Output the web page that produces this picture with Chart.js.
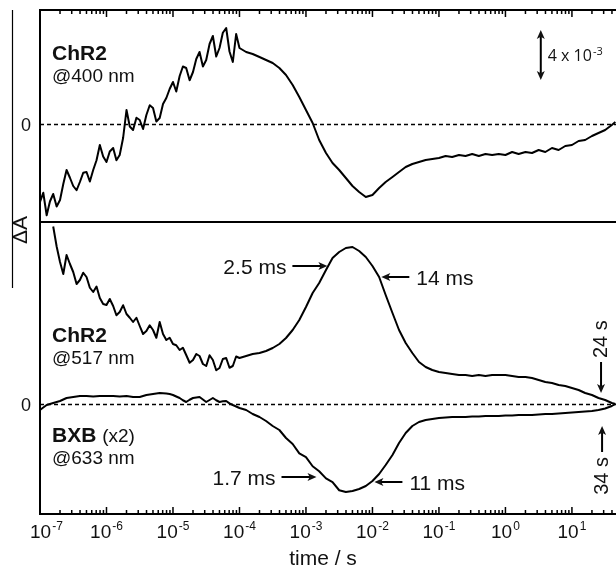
<!DOCTYPE html>
<html>
<head>
<meta charset="utf-8">
<script src="https://cdn.jsdelivr.net/npm/chart.js"></script>
<style>
  html, body { margin: 0; padding: 0; background: #fff; }
  #wrap { width: 616px; height: 568px; }
</style>
</head>
<body>
<div id="wrap"><canvas id="kinetics" width="616" height="568"></canvas></div>
<script>
// time after flash (s): 20 samples per decade up to 100 us, 10 per decade after
const time = [
  1e-7, 1.12e-7, 1.26e-7, 1.41e-7, 1.58e-7, 1.78e-7, 2e-7, 2.24e-7, 2.51e-7, 2.82e-7,
  3.16e-7, 3.55e-7, 3.98e-7, 4.47e-7, 5.01e-7, 5.62e-7, 6.31e-7, 7.08e-7, 7.94e-7, 8.91e-7,
  1e-6, 1.12e-6, 1.26e-6, 1.41e-6, 1.58e-6, 1.78e-6, 2e-6, 2.24e-6, 2.51e-6, 2.82e-6,
  3.16e-6, 3.55e-6, 3.98e-6, 4.47e-6, 5.01e-6, 5.62e-6, 6.31e-6, 7.08e-6, 7.94e-6, 8.91e-6,
  1e-5, 1.12e-5, 1.26e-5, 1.41e-5, 1.58e-5, 1.78e-5, 2e-5, 2.24e-5, 2.51e-5, 2.82e-5,
  3.16e-5, 3.55e-5, 3.98e-5, 4.47e-5, 5.01e-5, 5.62e-5, 6.31e-5, 7.08e-5, 7.94e-5, 8.91e-5,
  1e-4, 1.26e-4, 1.58e-4, 2e-4, 2.51e-4, 3.16e-4, 3.98e-4, 5.01e-4, 6.31e-4, 7.94e-4,
  1e-3, 1.26e-3, 1.58e-3, 2e-3, 2.51e-3, 3.16e-3, 3.98e-3, 5.01e-3, 6.31e-3, 7.94e-3,
  1e-2, 1.26e-2, 1.58e-2, 2e-2, 2.51e-2, 3.16e-2, 3.98e-2, 5.01e-2, 6.31e-2, 7.94e-2,
  0.1, 0.126, 0.158, 0.2, 0.251, 0.316, 0.398, 0.501, 0.631, 0.794,
  1, 1.26, 1.58, 2, 2.51, 3.16, 3.98, 5.01, 6.31, 7.94,
  10, 12.6, 15.8, 20, 25.1, 31.6, 39.8, 45
];

// absorbance change, units of 1e-3
const chr2At400 = [
  -6.24, -5.5, -7.3, -6.2, -5.6, -6.6, -6.08, -4.8, -3.68, -4.3,
  -4.96, -5.3, -4.64, -3.9, -3.84, -4.6, -3.68, -2.9, -1.68, -2.6,
  -3.04, -2.2, -1.92, -2.9, -2.48, -1.1, 1.12, -0.2, -0.48, 0.5,
  0.32, -0.4, 0.72, 1.5, 1.28, 0.2, 0.48, 1.6, 2.08, 2.8,
  3.36, 2.6, 3.84, 4.6, 4.48, 3.5, 4.16, 5.2, 5.76, 4.6,
  5.12, 6.4, 7.04, 5.4, 6.08, 7.3, 7.68, 5.8, 4.96, 7.2,
  6.08, 5.76, 5.6, 5.36, 5.12, 4.88, 4.48, 3.92, 3.12, 2.16,
  1.12, 0.08, -1.28, -2.32, -3.12, -3.68, -4.32, -4.96, -5.44, -5.84,
  -5.68, -5.12, -4.64, -4.24, -3.84, -3.44, -3.2, -3.04, -2.88, -2.8,
  -2.72, -2.56, -2.64, -2.48, -2.56, -2.4, -2.56, -2.4, -2.48, -2.4,
  -2.48, -2.24, -2.4, -2.24, -2.32, -2.08, -2.24, -1.92, -2.08, -1.76,
  -1.68, -1.36, -1.28, -0.96, -0.72, -0.48, -0.08, 0.16
];

const chr2At517 = [
  null, null, null, null, 14.2, 12.6, 11.36, 10.4, 11.92, 11.2,
  10.56, 9.6, 9.92, 10.5, 10.16, 9.3, 8.96, 9.4, 8.48, 8.0,
  7.92, 8.4, 7.84, 7.1, 7.36, 7.9, 7.2, 6.9, 6.56, 6.9,
  6.24, 5.6, 5.84, 6.3, 5.92, 5.3, 6.56, 5.6, 5.12, 5.3,
  4.8, 4.7, 4.32, 4.5, 3.92, 3.3, 3.52, 4.0, 3.84, 3.2,
  3.04, 3.9, 3.52, 2.7, 2.88, 3.6, 3.68, 2.9, 3.04, 3.8,
  3.68, 3.84, 4.0, 4.08, 4.24, 4.48, 4.8, 5.28, 5.92, 6.72,
  7.76, 8.88, 9.68, 10.72, 11.68, 12.16, 12.48, 12.56, 12.24, 11.76,
  11.04, 10.16, 8.72, 7.28, 5.92, 4.88, 4.08, 3.36, 2.96, 2.72,
  2.56, 2.48, 2.4, 2.32, 2.32, 2.24, 2.32, 2.24, 2.32, 2.32,
  2.32, 2.24, 2.16, 2.16, 2.08, 1.92, 1.76, 1.68, 1.52, 1.44,
  1.28, 1.12, 0.88, 0.72, 0.48, 0.32, 0.08, 0
];

// BXB, already multiplied by 2
const bxbAt633 = [
  -0.48, -0.28, -0.08, 0.0, 0.08, 0.16, 0.24, 0.36, 0.48, 0.52,
  0.56, 0.6, 0.64, 0.64, 0.64, 0.62, 0.6, 0.62, 0.64, 0.64,
  0.64, 0.64, 0.64, 0.62, 0.6, 0.62, 0.64, 0.6, 0.56, 0.56,
  0.56, 0.64, 0.72, 0.76, 0.8, 0.84, 0.88, 0.86, 0.84, 0.8,
  0.72, 0.6, 0.48, 0.3, 0.16, 0.34, 0.48, 0.52, 0.56, 0.36,
  0.16, 0.32, 0.48, 0.3, 0.16, 0.22, 0.24, 0.05, -0.08, -0.2,
  -0.32, -0.48, -0.8, -1.04, -1.36, -1.76, -2.08, -2.72, -3.2, -3.95,
  -4.25, -4.98, -5.38, -5.95, -6.25, -6.9, -7.04, -6.96, -6.8, -6.56,
  -6.16, -5.6, -4.88, -4.08, -3.12, -2.32, -1.76, -1.44, -1.28, -1.2,
  -1.12, -1.08, -1.04, -1.04, -1.04, -1, -1, -0.96, -0.96, -0.96,
  -0.92, -0.92, -0.88, -0.88, -0.88, -0.84, -0.8, -0.8, -0.76, -0.72,
  -0.68, -0.64, -0.6, -0.56, -0.48, -0.36, -0.16, 0
];

const decadeExponents = [-7, -6, -5, -4, -3, -2, -1, 0, 1];
const minorMantissas = [2, 3, 4, 5, 6, 7, 8, 9];

// time constants: [label, time at arrow tip, dA at tip, text side]
const riseDecayMarks = [
  ['2.5 ms', 2.1e-3, 11.04, 'left'],
  ['14 ms', 0.0136, 10.16, 'right'],
  ['1.7 ms', 1.44e-3, -5.84, 'left'],
  ['11 ms', 0.0107, -6.24, 'right']
];
// slow recovery: [label, time, dA at tip, text side]
const recoveryMarks = [
  ['24 s', 27.4, 0.88, 'above'],
  ['34 s', 28.4, -1.76, 'below']
];
// vertical scale bar: time, dA from, dA to
const scaleBar = [3.4, 3.52, 7.52];

const FONT = '"Liberation Sans", Arial, Helvetica, sans-serif';

function toPoints(values) {
  const pts = [];
  values.forEach((v, i) => { if (v !== null) pts.push({x: time[i], y: v}); });
  return pts;
}

function arrow(ctx, x1, y1, x2, y2) {
  const ang = Math.atan2(y2 - y1, x2 - x1);
  const len = 9, half = 4;
  const c = Math.cos(ang), s = Math.sin(ang);
  ctx.beginPath();
  ctx.moveTo(x1, y1);
  ctx.lineTo(x2 - c * len * 0.7, y2 - s * len * 0.7);
  ctx.stroke();
  ctx.beginPath();
  ctx.moveTo(x2, y2);
  ctx.lineTo(x2 - c * len + s * half, y2 - s * len - c * half);
  ctx.lineTo(x2 - c * len * 0.75, y2 - s * len * 0.75);
  ctx.lineTo(x2 - c * len - s * half, y2 - s * len + c * half);
  ctx.closePath();
  ctx.fill();
}

// "10" with a raised exponent
function powWidth(ctx, base, exp, size, supSize, family) {
  ctx.font = size + 'px ' + family;
  const wb = ctx.measureText(base).width;
  ctx.font = supSize + 'px ' + family;
  return wb + ctx.measureText(exp).width + 1;
}
function drawPow(ctx, base, exp, left, baseline, size, supSize, rise, family) {
  ctx.textAlign = 'left';
  ctx.textBaseline = 'alphabetic';
  ctx.font = size + 'px ' + family;
  ctx.fillText(base, left, baseline);
  const wb = ctx.measureText(base).width;
  ctx.font = supSize + 'px ' + family;
  ctx.fillText(exp, left + wb + 1, baseline - rise);
}

const zeroLines = {
  id: 'zeroLines',
  beforeDatasetsDraw(chart) {
    const {ctx, chartArea: a, scales} = chart;
    ctx.save();
    ctx.strokeStyle = '#000';
    ctx.lineWidth = 1.6;
    ctx.setLineDash([4, 3]);
    [scales.yTop, scales.yBot].forEach(s => {
      const py = Math.round(s.getPixelForValue(0)) + 0.5;
      ctx.beginPath();
      ctx.moveTo(a.left, py);
      ctx.lineTo(a.right, py);
      ctx.stroke();
    });
    ctx.restore();
  }
};

const frameAndNotes = {
  id: 'frameAndNotes',
  afterDraw(chart) {
    const {ctx, chartArea: a, scales} = chart;
    const x = scales.x, yTop = scales.yTop, yBot = scales.yBot;
    ctx.save();
    ctx.strokeStyle = '#000';
    ctx.fillStyle = '#000';

    // frame + divider between the two panels
    ctx.lineWidth = 2;
    ctx.beginPath();
    ctx.moveTo(a.right, a.top);
    ctx.lineTo(a.left, a.top);
    ctx.lineTo(a.left, a.bottom);
    ctx.lineTo(a.right, a.bottom);
    ctx.moveTo(a.left, yTop.bottom);
    ctx.lineTo(a.right, yTop.bottom);
    ctx.stroke();

    // inward ticks on top and bottom axes
    ctx.lineWidth = 1.5;
    const tick = (px, len) => {
      ctx.beginPath();
      ctx.moveTo(px, a.top);
      ctx.lineTo(px, a.top + len);
      ctx.moveTo(px, a.bottom);
      ctx.lineTo(px, a.bottom - len);
      ctx.stroke();
    };
    decadeExponents.forEach(e => {
      tick(x.getPixelForValue(Math.pow(10, e)), 7);
      minorMantissas.forEach(m => {
        const v = m * Math.pow(10, e);
        if (v <= x.max) tick(x.getPixelForValue(v), 4);
      });
    });

    // tick labels
    ctx.fillStyle = '#111';
    decadeExponents.forEach(e => {
      const px = x.getPixelForValue(Math.pow(10, e));
      const w = powWidth(ctx, '10', String(e), 19, 12, FONT);
      const left = Math.max(px - w / 2, 30);
      drawPow(ctx, '10', String(e), left, a.bottom + 24, 19, 12, 8, FONT);
    });
    ctx.textAlign = 'center';
    ctx.font = '21px ' + FONT;
    ctx.fillText('time / s', (a.left + a.right) / 2 - 5, a.bottom + 51);

    // zero labels and ΔA
    ctx.font = '18px ' + FONT;
    ctx.fillText('0', 26, yTop.getPixelForValue(0) + 7);
    ctx.fillText('0', 26, yBot.getPixelForValue(0) + 7);
    ctx.save();
    ctx.translate(21, 230);
    ctx.rotate(-Math.PI / 2);
    ctx.textBaseline = 'middle';
    ctx.font = '21px ' + FONT;
    ctx.fillText('\u0394A', 0, 0);
    ctx.restore();
    ctx.lineWidth = 1.2;
    ctx.beginPath();
    ctx.moveTo(12.5, 10);
    ctx.lineTo(12.5, 288);
    ctx.stroke();

    // panel labels
    const lx = a.left + 12;
    ctx.textAlign = 'left';
    const label = (bold, rest, line2, y1) => {
      ctx.font = 'bold 21px ' + FONT;
      ctx.fillText(bold, lx, y1);
      if (rest) {
        const w = ctx.measureText(bold + ' ').width;
        ctx.font = '19px ' + FONT;
        ctx.fillText(rest, lx + w, y1);
      }
      ctx.font = '19px ' + FONT;
      ctx.fillText(line2, lx, y1 + 22);
    };
    const z0 = yTop.getPixelForValue(0), z1 = yBot.getPixelForValue(0);
    label('ChR2', '', '@400 nm', z0 - 64);
    label('ChR2', '', '@517 nm', z1 - 62);
    label('BXB', '(x2)', '@633 nm', z1 + 38);

    // time-constant arrows
    ctx.lineWidth = 2;
    ctx.font = '21px ' + FONT;
    riseDecayMarks.forEach(([txt, t, v, side]) => {
      const tx = x.getPixelForValue(t), ty = yBot.getPixelForValue(v);
      if (side === 'left') {
        arrow(ctx, tx - 35, ty, tx, ty);
        ctx.textAlign = 'right';
        ctx.fillText(txt, tx - 41, ty + 7.5);
      } else {
        arrow(ctx, tx + 28, ty, tx, ty);
        ctx.textAlign = 'left';
        ctx.fillText(txt, tx + 35, ty + 7.5);
      }
    });

    ctx.font = '20px ' + FONT;
    recoveryMarks.forEach(([txt, t, v, side]) => {
      const tx = x.getPixelForValue(t), ty = yBot.getPixelForValue(v);
      const half = ctx.measureText(txt).width / 2;
      let cy;
      if (side === 'above') {
        arrow(ctx, tx, ty - 31, tx, ty);
        cy = ty - 31 - 4 - half;
      } else {
        arrow(ctx, tx, ty + 26, tx, ty);
        cy = ty + 26 + 5 + half;
      }
      ctx.save();
      ctx.translate(tx, cy);
      ctx.rotate(-Math.PI / 2);
      ctx.textAlign = 'center';
      ctx.textBaseline = 'middle';
      ctx.fillText(txt, 0, 0);
      ctx.restore();
    });

    // scale bar 4 x 10^-3
    const bx = x.getPixelForValue(scaleBar[0]);
    const b1 = yTop.getPixelForValue(scaleBar[1]), b2 = yTop.getPixelForValue(scaleBar[2]);
    const mid = (b1 + b2) / 2;
    arrow(ctx, bx, mid, bx, b2);
    arrow(ctx, bx, mid, bx, b1);
    drawPow(ctx, '4 x 10', '-3', bx + 7, mid + 6, 16, 11, 6, '"Open Sans", ' + FONT);

    ctx.restore();
  }
};

const lineStyle = {
  borderColor: '#000',
  borderWidth: 2,
  pointRadius: 0,
  tension: 0,
  borderJoinStyle: 'round'
};

new Chart(document.getElementById('kinetics'), {
  type: 'line',
  data: {
    datasets: [
      Object.assign({label: 'ChR2 @400 nm', data: toPoints(chr2At400), yAxisID: 'yTop'}, lineStyle),
      Object.assign({label: 'ChR2 @517 nm', data: toPoints(chr2At517), yAxisID: 'yBot'}, lineStyle),
      Object.assign({label: 'BXB (x2) @633 nm', data: toPoints(bxbAt633), yAxisID: 'yBot'}, lineStyle)
    ]
  },
  options: {
    responsive: false,
    animation: false,
    layout: {padding: {left: 40, right: 0, top: 10, bottom: 54}},
    plugins: {legend: {display: false}, tooltip: {enabled: false}},
    scales: {
      x: {type: 'logarithmic', min: 1e-7, max: 46, display: false},
      yTop: {
        type: 'linear', axis: 'y', position: 'left', display: false,
        stack: 'panels', stackWeight: 212, weight: 2,
        min: -7.84, max: 9.12
      },
      yBot: {
        type: 'linear', axis: 'y', position: 'left', display: false,
        stack: 'panels', stackWeight: 292, weight: 1,
        min: -8.8, max: 14.56
      }
    }
  },
  plugins: [zeroLines, frameAndNotes]
});
</script>
</body>
</html>
